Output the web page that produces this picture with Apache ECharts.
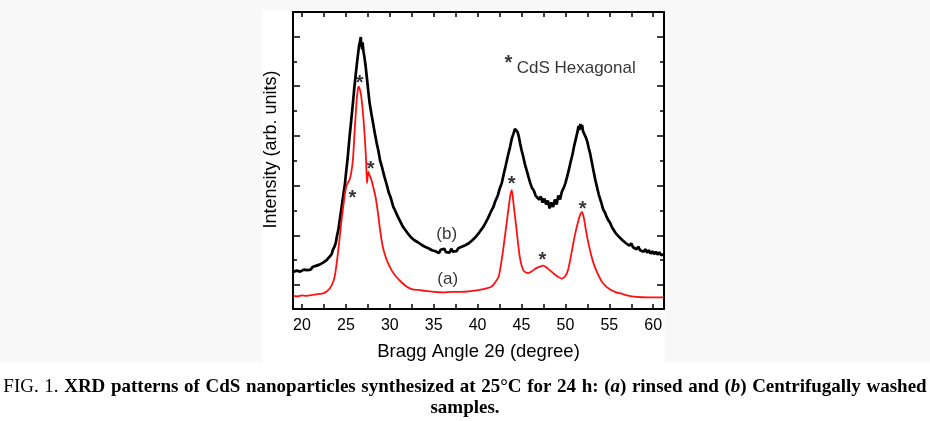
<!DOCTYPE html>
<html>
<head>
<meta charset="utf-8">
<script src="https://cdn.jsdelivr.net/npm/echarts@6/dist/echarts.min.js"></script>
<style>
html,body{margin:0;padding:0;background:#ffffff;}
#chart{width:930px;height:421px;}
</style>
</head>
<body>
<div id="chart"></div>
<script>
// ---- data (2θ in degrees, intensity in arbitrary units) ----
const xTickValues = [20,22.5,25,27.5,30,32.5,35,37.5,40,42.5,45,47.5,50,52.5,55,57.5,60];
const xLabelValues = [20,25,30,35,40,45,50,55,60];
const yMajorTicks = [0,1,2,3,4,5];
const yMinorTicks = [0.5,1.5,2.5,3.5,4.5];

// (b) Centrifugally washed – black (noisy trace)
const seriesB = [
[19.0,0.26],[19.2,0.22],[19.4,0.29],[19.6,0.25],[19.8,0.27],[20.0,0.24],[20.2,0.31],[20.4,0.27],[20.6,0.30],[20.8,0.33],
[21.0,0.31],[21.2,0.36],[21.5,0.38],[21.7,0.35],[22.0,0.41],[22.2,0.39],[22.4,0.45],[22.6,0.43],[22.8,0.50],[23.0,0.52],
[23.2,0.58],[23.4,0.63],[23.5,0.70],[23.7,0.77],[23.85,0.85],[24.0,1.00],[24.15,1.12],[24.3,1.31],[24.5,1.55],[24.7,1.80],
[24.9,2.05],[25.05,2.31],[25.2,2.55],[25.4,2.95],[25.6,3.30],[25.8,3.66],[25.95,3.95],[26.1,4.20],[26.25,4.45],[26.4,4.67],
[26.5,4.82],[26.6,4.90],[26.7,4.99],[26.75,4.80],[26.8,4.86],[26.85,4.74],[26.9,4.88],[27.0,4.70],[27.1,4.60],[27.25,4.40],
[27.4,4.15],[27.55,3.90],[27.7,3.66],[27.9,3.45],[28.1,3.25],[28.3,3.05],[28.5,2.86],[28.7,2.70],[28.9,2.50],[29.1,2.38],
[29.4,2.17],[29.6,2.05],[29.9,1.85],[30.1,1.76],[30.4,1.57],[30.6,1.50],[30.9,1.38],[31.1,1.31],[31.3,1.24],[31.5,1.17],
[31.7,1.14],[32.0,1.05],[32.2,1.04],[32.4,0.96],[32.6,0.97],[32.8,0.90],[33.0,0.93],[33.2,0.86],[33.4,0.89],[33.6,0.81],
[33.8,0.85],[34.0,0.77],[34.2,0.80],[34.4,0.74],[34.6,0.78],[34.8,0.70],[35.0,0.74],[35.2,0.68],[35.4,0.72],[35.6,0.64],
[35.8,0.71],[36.0,0.67],[36.2,0.73],[36.4,0.66],[36.6,0.70],[36.8,0.65],[37.0,0.73],[37.2,0.67],[37.4,0.71],[37.6,0.68],
[37.8,0.74],[38.0,0.70],[38.2,0.77],[38.4,0.73],[38.6,0.80],[38.8,0.78],[39.0,0.84],[39.2,0.83],[39.4,0.90],[39.6,0.89],
[39.8,0.97],[40.0,0.98],[40.2,1.06],[40.4,1.08],[40.65,1.17],[40.9,1.25],[41.2,1.35],[41.5,1.47],[41.8,1.57],[42.0,1.68],
[42.3,1.80],[42.5,1.93],[42.75,2.05],[43.0,2.25],[43.2,2.40],[43.45,2.60],[43.7,2.78],[43.9,2.95],[44.1,3.05],[44.25,3.14],
[44.4,3.16],[44.55,3.08],[44.7,2.98],[44.85,2.84],[45.0,2.72],[45.2,2.58],[45.4,2.42],[45.6,2.30],[45.8,2.17],[46.0,2.05],
[46.2,1.95],[46.4,1.90],[46.6,1.80],[46.8,1.84],[47.0,1.72],[47.2,1.78],[47.4,1.66],[47.6,1.74],[47.8,1.62],[48.0,1.70],
[48.2,1.54],[48.4,1.66],[48.6,1.57],[48.8,1.72],[49.0,1.62],[49.2,1.80],[49.4,1.72],[49.6,1.88],[49.8,1.95],[50.0,2.05],
[50.2,2.18],[50.4,2.32],[50.6,2.48],[50.8,2.62],[51.0,2.80],[51.2,2.95],[51.4,3.10],[51.5,3.20],[51.6,3.12],[51.7,3.24],
[51.8,3.14],[51.9,3.22],[52.0,3.10],[52.2,3.06],[52.35,2.96],[52.5,2.88],[52.65,2.76],[52.8,2.66],[53.0,2.48],[53.2,2.30],
[53.4,2.12],[53.6,1.97],[53.8,1.82],[54.1,1.65],[54.3,1.52],[54.5,1.46],[54.7,1.37],[54.9,1.30],[55.1,1.25],[55.3,1.16],
[55.5,1.14],[55.7,1.05],[55.9,1.06],[56.1,0.97],[56.3,0.99],[56.5,0.90],[56.7,0.93],[56.9,0.84],[57.1,0.88],[57.3,0.79],
[57.5,0.84],[57.7,0.76],[57.9,0.80],[58.1,0.72],[58.3,0.77],[58.5,0.70],[58.7,0.74],[58.9,0.67],[59.1,0.72],[59.3,0.65],
[59.5,0.70],[59.7,0.63],[59.9,0.68],[60.1,0.62],[60.3,0.67],[60.5,0.61],[60.7,0.66],[60.9,0.60],[61.1,0.64],[61.2,0.62]
];

// (a) rinsed – red
const seriesA = [
[19.0,-0.22],[19.5,-0.23],[20.0,-0.21],[20.5,-0.22],[21.25,-0.20],[22.0,-0.18],[22.4,-0.17],[22.8,-0.13],[23.2,-0.06],[23.5,0.04],
[23.7,0.15],[23.9,0.37],[24.1,0.65],[24.3,0.97],[24.5,1.30],[24.7,1.58],[24.9,1.85],[25.05,1.98],[25.2,2.05],[25.4,2.11],
[25.6,2.25],[25.8,2.52],[26.0,3.10],[26.2,3.66],[26.35,3.92],[26.45,3.99],[26.6,3.93],[26.75,3.79],[26.95,3.45],[27.15,2.98],
[27.3,2.50],[27.4,2.05],[27.55,2.28],[27.7,2.21],[27.9,2.12],[28.1,1.98],[28.4,1.75],[28.65,1.45],[28.9,1.10],[29.2,0.77],
[29.5,0.58],[29.8,0.44],[30.2,0.30],[30.7,0.17],[31.3,0.06],[31.9,-0.03],[32.6,-0.09],[33.3,-0.10],[34.0,-0.12],[35.0,-0.14],
[36.1,-0.15],[37.0,-0.14],[38.0,-0.14],[39.0,-0.13],[39.9,-0.11],[41.0,-0.07],[41.6,-0.03],[42.0,0.05],[42.4,0.17],[42.65,0.40],
[42.9,0.70],[43.2,1.10],[43.5,1.51],[43.7,1.78],[43.9,1.91],[44.1,1.62],[44.4,1.17],[44.6,0.85],[44.8,0.57],[45.0,0.40],
[45.2,0.30],[45.5,0.25],[45.8,0.24],[46.2,0.28],[46.7,0.34],[47.1,0.37],[47.5,0.39],[48.0,0.33],[48.6,0.24],[49.1,0.17],
[49.6,0.13],[50.0,0.18],[50.3,0.30],[50.6,0.55],[50.9,0.84],[51.2,1.10],[51.5,1.31],[51.7,1.42],[51.9,1.47],[52.1,1.35],
[52.4,1.04],[52.8,0.70],[53.2,0.44],[53.7,0.22],[54.3,0.03],[55.0,-0.08],[55.8,-0.15],[56.5,-0.18],[57.0,-0.21],[58.1,-0.24],
[59.5,-0.25],[60.8,-0.25],[61.2,-0.25]
];

// peak markers (*) and curve labels, in data coordinates
const starMarks = [[26.57,4.14],[25.73,1.82],[27.82,2.40],[43.88,2.10],[47.37,0.58],[51.97,1.60],[43.50,4.54]];
const curveLabels = [[36.48,1.01,'(b)'],[36.59,0.12,'(a)']];
const legendText = [[44.45,4.35,'CdS Hexagonal']];

// caption words
const captionLine1 = [
  ['n','FIG.'],['n','1.'],['b','XRD'],['b','patterns'],['b','of'],['b','CdS'],['b','nanoparticles'],['b','synthesized'],
  ['b','at'],['b','25°C'],['b','for'],['b','24'],['b','h:'],['b','(','bi','a','b',')'],['b','rinsed'],['b','and'],
  ['b','(','bi','b','b',')'],['b','Centrifugally'],['b','washed']
];
const captionLine2 = 'samples.';

const X_MIN = 18.975, X_MAX = 61.23, Y_MIN = -0.483, Y_MAX = 5.493;
const font = 'Liberation Sans, Arial, sans-serif';
const serif = 'Liberation Serif, Times New Roman, serif';
const CAP = 19;

const chart = echarts.init(document.getElementById('chart'), null, {renderer:'canvas'});

function yAx(pos, ticks, len, showLine, name){
  return {
    type:'value', position:pos, min:Y_MIN, max:Y_MAX,
    splitLine:{show:false},
    axisLine:{show:showLine, onZero:false, lineStyle:{color:'#000', width:2}},
    axisTick:{show:true, inside:true, length:len, customValues:ticks, lineStyle:{color:'#000', width:1.5}},
    axisLabel:{show:false},
    name: name || '',
    nameLocation:'middle', nameGap:13,
    nameTextStyle:{fontFamily:font, fontSize:18, color:'#000', padding:[0,0,0,22]}
  };
}

// justified first caption line: rich text with slightly widened spaces
const line1 = captionLine1.map(w => {
  let s = '';
  for (let i = 0; i < w.length; i += 2) s += '{' + w[i] + '|' + w[i+1] + '}';
  return s;
}).join('{s| }');

const option = {
  backgroundColor:'#ffffff',
  animation:false,
  grid:{left:293, right:266, top:12, bottom:112, containLabel:false},
  xAxis:[
    {type:'value', position:'bottom', min:X_MIN, max:X_MAX,
     splitLine:{show:false},
     axisLine:{onZero:false, lineStyle:{color:'#000', width:2}},
     axisTick:{inside:true, length:5, customValues:xTickValues, lineStyle:{color:'#000', width:1.5}},
     axisLabel:{customValues:xLabelValues, margin:9, fontFamily:font, fontSize:16, color:'#000'},
     name:'Bragg Angle 2\u03B8 (degree)', nameLocation:'middle', nameGap:33,
     nameTextStyle:{fontFamily:font, fontSize:18.5, color:'#000'}},
    {type:'value', position:'top', min:X_MIN, max:X_MAX,
     splitLine:{show:false},
     axisLine:{onZero:false, lineStyle:{color:'#000', width:2}},
     axisTick:{inside:true, length:5, customValues:xTickValues, lineStyle:{color:'#000', width:1.5}},
     axisLabel:{show:false}}
  ],
  yAxis:[
    yAx('left', yMajorTicks, 7, true, 'Intensity (arb. units)'),
    yAx('left', yMinorTicks, 4, false),
    yAx('right', yMajorTicks, 7, true),
    yAx('right', yMinorTicks, 4, false)
  ],
  series:[
    {type:'line', name:'(b)', data:seriesB, xAxisIndex:0, yAxisIndex:0, showSymbol:false,
     lineStyle:{color:'#000', width:2.7}, smooth:false},
    {type:'line', name:'(a)', data:seriesA, xAxisIndex:0, yAxisIndex:0, showSymbol:false,
     lineStyle:{color:'#ff1010', width:1.8}, smooth:0.2},
    {type:'scatter', data:starMarks, symbolSize:0, silent:true,
     label:{show:true, position:'inside', formatter:'*', offset:[0,4], fontFamily:font, fontSize:20, fontWeight:'bold', color:'#000'}},
    {type:'scatter', data:curveLabels, symbolSize:0, silent:true,
     label:{show:true, position:'inside', formatter:p=>p.data[2], fontFamily:font, fontSize:17, color:'#000'}},
    {type:'scatter', data:legendText, symbolSize:0, silent:true,
     label:{show:true, position:'right', distance:0, formatter:p=>p.data[2], fontFamily:font, fontSize:17, color:'#000'}}
  ],
  graphic:[
    {type:'rect', z:-10, shape:{x:0,y:0,width:262,height:362}, style:{fill:'#f8f8f8'}},
    {type:'rect', z:-10, shape:{x:665,y:0,width:265,height:362}, style:{fill:'#f8f8f8'}},
    {type:'rect', z:-10, shape:{x:262,y:0,width:403,height:10}, style:{fill:'#f8f8f8'}},
    {type:'text', left:'center', top:378, style:{
      text: line1,
      rich:{
        n:{fontFamily:serif, fontSize:CAP, color:'#000'},
        b:{fontFamily:serif, fontSize:CAP, fontWeight:'bold', color:'#000'},
        bi:{fontFamily:serif, fontSize:CAP, fontWeight:'bold', fontStyle:'italic', color:'#000'},
        s:{fontFamily:serif, fontSize:CAP, width:5.6}
      }}},
    {type:'text', left:'center', top:399, style:{
      text:captionLine2, fontFamily:serif, fontSize:CAP, fontWeight:'bold', fill:'#000'}}
  ]
};
chart.setOption(option);
</script>
</body>
</html>
